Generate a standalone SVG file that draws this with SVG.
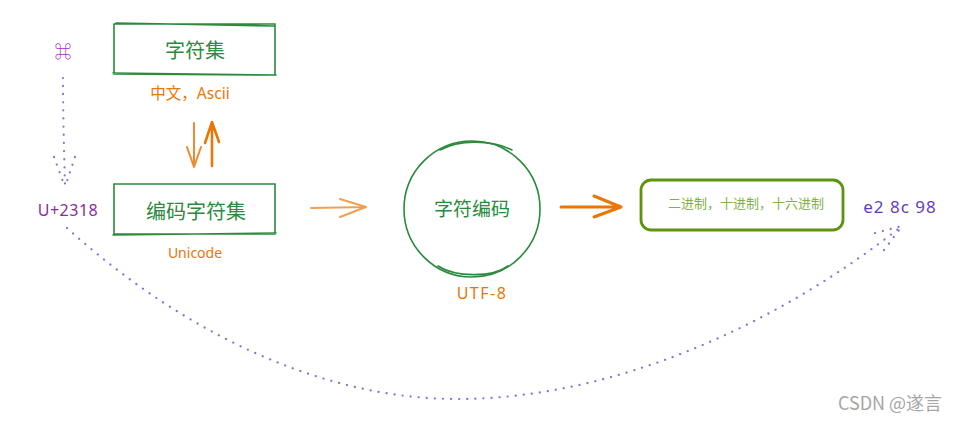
<svg xmlns="http://www.w3.org/2000/svg" width="962" height="422" viewBox="0 0 962 422">
<style>
.box{fill:none;stroke:#2b8a3e;stroke-width:1.6;stroke-linecap:round}
.cn{font-family:"Noto Sans CJK SC","Noto Sans",sans-serif}
.lbl{font-family:"Noto Sans","Noto Sans CJK SC",sans-serif;fill:#e8770a}
.dot{fill:none;stroke:#8b6ee0;stroke-width:2.2;stroke-dasharray:0.1 8;stroke-linecap:round}
.orng{fill:none;stroke:#e8770a;stroke-linecap:round;stroke-linejoin:round}
</style>
<rect width="962" height="422" fill="#ffffff"/>
<g id="connectors">
  <path class="dot" d="M63 78 C63 110 64 150 65 186"/>
  <path class="dot" d="M54 157 L65 187 M75 157 L65 187"/>
  <path class="dot" d="M67 228 C180 330 320 400 460 399 C610 398 770 330 902 226"/>
  <path class="dot" d="M875 233 L902 226 M884 250 L902 226"/>
  <path class="orng" stroke-width="2" d="M194 123 L194 167 M187 147 L194 167 L201 147" opacity="0.85"/>
  <path class="orng" stroke-width="2.6" d="M212 166 L212 122 M205 143 L212 122 L219 142"/>
  <path class="orng" stroke-width="2" opacity="0.7" d="M311 208 L366 207 M340 199 L366 207 L340 217"/>
  <path class="orng" stroke-width="3" d="M561 207 L621 207 M594 196 L621 207 L594 217"/>
</g>
<g id="charset">
  <path class="box" d="M114 24 L275 24 L275 75 L114 74 Z M116 23 L274 26 M113 73 L276 75"/>
  <text class="cn" x="195" y="58" font-size="20" fill="#2b8a3e" text-anchor="middle">字符集</text>
  <text class="lbl" x="190" y="99" style="font-size:15.5px" text-anchor="middle">中文，Ascii</text>
</g>
<g id="cmd">
  <text class="cn" x="63" y="58" font-size="17" fill="#9c36b5" text-anchor="middle">⌘</text>
</g>
<g id="codepoint">
  <text x="68" y="216" font-family="Noto Sans,sans-serif" font-size="16" letter-spacing="0.5" fill="#862e9c" text-anchor="middle">U+2318</text>
</g>
<g id="codedcharset">
  <path class="box" d="M114 184 L275 184 L275 234 L114 234 Z M113 235 L276 233"/>
  <text class="cn" x="196" y="219" font-size="20" fill="#2b8a3e" text-anchor="middle">编码字符集</text>
  <text class="lbl" x="195" y="258" style="font-size:14px" text-anchor="middle">Unicode</text>
</g>
<g id="encoding">
  <circle cx="472" cy="209" r="68" class="box" stroke-width="1.4"/>
  <path class="box" stroke-width="0.9" d="M440 150 C458 140 490 139 512 150 M438 266 C455 277 492 278 508 266"/>
  <text class="cn" x="472" y="216" font-size="19" fill="#2b8a3e" text-anchor="middle">字符编码</text>
  <text class="lbl" x="482" y="299" style="font-size:16px;letter-spacing:1.5px" text-anchor="middle">UTF-8</text>
</g>
<g id="radix">
  <rect x="641" y="180" width="202" height="50" rx="10" fill="none" stroke="#5c940d" stroke-width="2.8"/>
  <text class="cn" x="746" y="208" font-size="13" fill="#82b04a" text-anchor="middle">二进制，十进制，十六进制</text>
</g>
<g id="bytes">
  <text x="900" y="213" font-family="Noto Sans,sans-serif" font-size="17" letter-spacing="1" fill="#5f3dc4" text-anchor="middle">e2 8c 98</text>
</g>
<text class="cn" x="890" y="410" font-size="18" fill="#a6a6a6" text-anchor="middle">CSDN @遂言</text>
</svg>
